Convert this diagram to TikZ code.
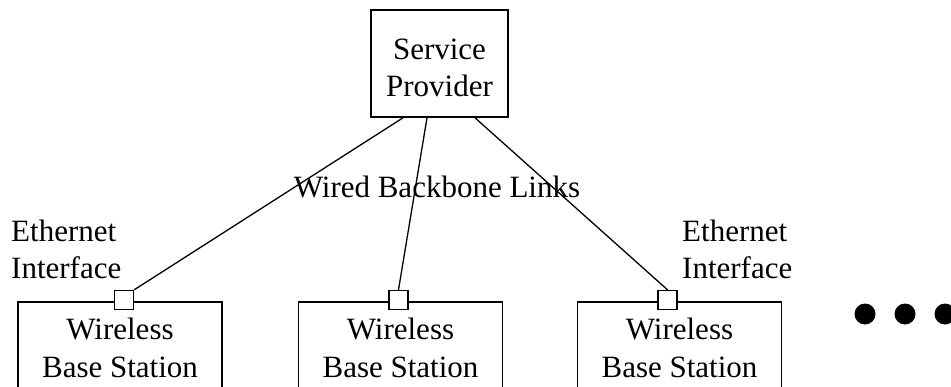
\documentclass[tikz,border=0pt]{standalone}
\usepackage{fontspec}
\setmainfont{Liberation Serif}
\usetikzlibrary{calc}
\begin{document}
\begin{tikzpicture}[x=1pt,y=-1pt,
  txt/.style={inner sep=0pt, align=center, font=\fontsize{31}{37}\selectfont},
  box/.style={draw, line width=1.6pt, rectangle, inner sep=0pt},
  bsbox/.style={draw, line width=1.6pt, rectangle, anchor=north, minimum width=204pt, inner xsep=0pt, inner ysep=15.8pt, align=center, font=\fontsize{31}{38.5}\selectfont},
  port/.style={draw, line width=1.4pt, fill=white, rectangle, minimum size=19pt, inner sep=0pt},
  link/.style={line width=1.3pt},
  dot/.style={circle, fill=black, minimum size=21pt, inner sep=0pt}]
\useasboundingbox (0,0) rectangle (951,386);
\clip (0,0) rectangle (951,386);
\fill[white] (0,0) rectangle (951,386);
% service provider
\node[box, minimum width=137pt, minimum height=107pt] (sp) at (439.5,63.5) {};
\node[txt] (spt) at (439.5,67.9) {Service\\Provider};
% base stations
\node[bsbox] (bs1) at (120,301) {Wireless\\Base Station};
\node[bsbox] (bs2) at (400.5,301) {Wireless\\Base Station};
\node[bsbox] (bs3) at (679.5,301) {Wireless\\Base Station};
% ports
\node[port] (p1) at (124,300) {};
\node[port] (p2) at (398.5,300) {};
\node[port] (p3) at (667.5,300) {};
% links
\draw[link] ($(sp.south)+(-36.5,0)$) -- (p1.north east);
\draw[link] ($(sp.south)+(-12.5,0)$) -- (p2.north);
\draw[link] ($(sp.south)+(35.5,0)$) -- (p3.north);
% labels
\node[txt, anchor=base] (wbl) at (437,197) {Wired Backbone Links};
\node[txt, align=left, anchor=west] (eth1) at (11,249.4) {Ethernet\\Interface};
\node[txt, align=left, anchor=west] (eth2) at (682,249.4) {Ethernet\\Interface};
% dots
\node[dot] (d1) at (865,314) {};
\node[dot] (d2) at (905,314) {};
\node[dot] (d3) at (945,314) {};
\end{tikzpicture}
\end{document}
